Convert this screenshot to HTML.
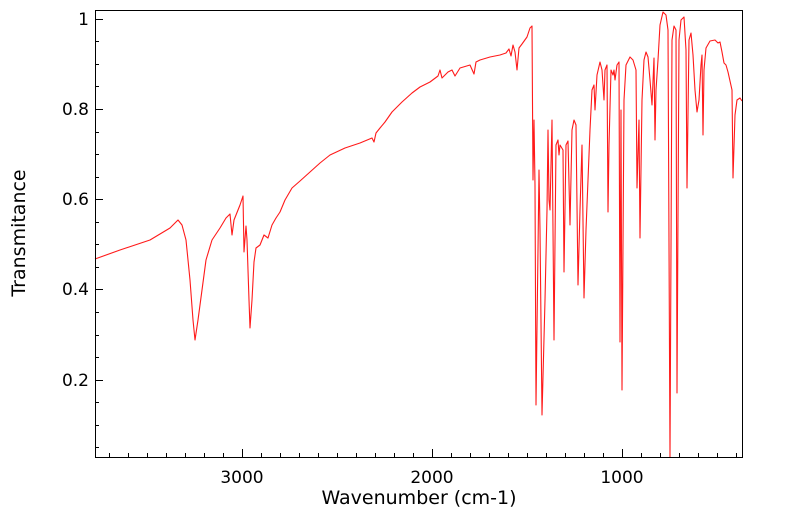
<!DOCTYPE html>
<html><head><style>
body{margin:0;background:#fff;}
svg text{font-family:"DejaVu Sans","Liberation Sans",sans-serif;fill:#000;}
</style></head><body>
<svg width="799" height="516" xmlns="http://www.w3.org/2000/svg">
<rect width="799" height="516" fill="#fff"/>
<g stroke="#000" stroke-width="1">
<path d="M95 19.5h8M95 109.5h8M95 199.5h8M95 289.5h8M95 380.5h8
M95 41.5h4M95 64.5h4M95 86.5h4M95 132.5h4M95 154.5h4M95 177.5h4M95 222.5h4M95 244.5h4M95 267.5h4M95 312.5h4M95 335.5h4M95 357.5h4M95 402.5h4M95 425.5h4M95 447.5h4"/>
<path d="M242.5 457v-8M432.5 457v-8M622.5 457v-8"/>
<path d="M109.5 457v-4M128.5 457v-4M147.5 457v-4M166.5 457v-4M185.5 457v-4M204.5 457v-4M223.5 457v-4M261.5 457v-4M280.5 457v-4M299.5 457v-4M318.5 457v-4M337.5 457v-4M356.5 457v-4M375.5 457v-4M394.5 457v-4M413.5 457v-4M451.5 457v-4M470.5 457v-4M489.5 457v-4M508.5 457v-4M527.5 457v-4M546.5 457v-4M565.5 457v-4M584.5 457v-4M603.5 457v-4M641.5 457v-4M660.5 457v-4M679.5 457v-4M698.5 457v-4M717.5 457v-4M736.5 457v-4"/>
</g>
<polyline fill="none" stroke="#ff1a1a" stroke-width="1.1" stroke-linejoin="round" points="
95,259 120,250 150,240 170,228 178,220 182,225 186,240 190,280 193,320 195,340 198,320 202,290 206,260 212,240 220,228 226,218 230,214 232,235 234,220 238,210 240,205 243,196 244,252 246,226 247,240 249,300 250,328 252,300 254,262 256,248 260,245 264,235 268,238 272,225 276,218 280,212 285,200 292,188 300,181 310,172 320,163 330,155 345,148 360,143 372,138 374,142 376,133 380,128 385,122 392,112 402,102 412,93 420,87 430,82 438,76 440,70 442,78 448,72 452,70 455,76 460,68 470,65 474,74 476,62 480,60 490,57 500,55 506,53 509,49 511,56 513,45 515,52 517,70 519,48 522,44 527,37 530,28 532,26
533,180 534,120 535,185 536,405 538,250 539,170 540,230 542,415 545,300 547,210 548,130 549,200 550,210 552,120 554,340 556,145 558,140 559,155 560,145 563,150 564,272 566,145 568,141 570,225 572,130 574,120 576,125 578,285 580,210 582,145 584,298 586,230 590,130 592,90 594,85 595,110 597,75 600,62 602,70 604,100 605,70 607,65 608,212 609,145 611,70 613,75 614,70 615,80 617,65 619,62 620,342 621,110 622,390 624,100 626,65 630,57 633,60 636,70 637,188 639,120 640,238 642,100 644,60 646,52 648,57 650,80 652,105 654,58 655,140 656,90 658,60 660,25 663,12 666,15 668,30 670,457 672,40 674,26 676,30 677,393 679,40 681,20 684,17 686,50 687,188 689,40 691,33 693,55 695,90 697,112 699,100 701,65 702,55 703,135 704,70 706,48 710,41 715,40 718,43 720,42 722,52 724,63 726,65 728,72 732,90 733,178 735,115 737,100 740,98 742,101"/>
<rect x="95.5" y="10.5" width="647" height="447" fill="none" stroke="#000" stroke-width="1"/>
<g font-size="17" text-anchor="end">
<text x="89" y="25">1</text>
<text x="89" y="115">0.8</text>
<text x="89" y="205">0.6</text>
<text x="89" y="295">0.4</text>
<text x="89" y="386">0.2</text>
</g>
<g font-size="17" text-anchor="middle">
<text x="242" y="483">3000</text>
<text x="432" y="483">2000</text>
<text x="622" y="483">1000</text>
</g>
<g font-size="19" text-anchor="middle">
<text x="419" y="504">Wavenumber (cm-1)</text>
<text transform="translate(25,233) rotate(-90)">Transmitance</text>
</g>
</svg>
</body></html>
